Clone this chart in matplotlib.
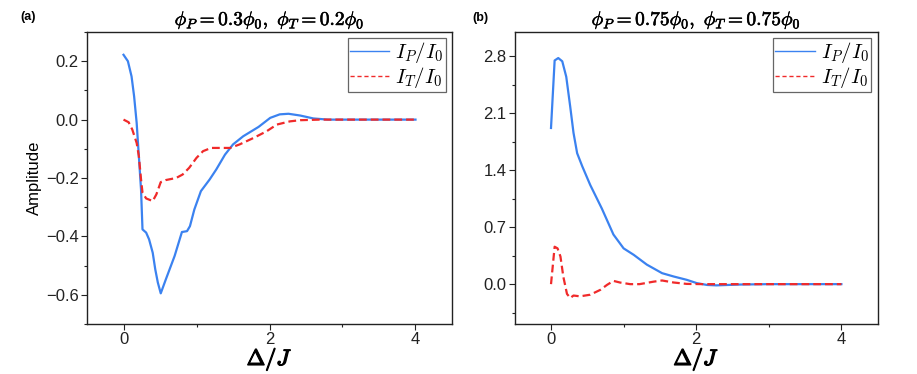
import matplotlib
matplotlib.use("Agg")
import matplotlib.pyplot as plt
import matplotlib.patheffects as pe
from matplotlib.lines import Line2D
from matplotlib.ticker import MultipleLocator, FuncFormatter

plt.rcParams['font.family'] = ['Liberation Sans', 'DejaVu Sans']
plt.rcParams['mathtext.fontset'] = 'cm'

# panel (a)
xa_p = [0.0, 0.06, 0.11, 0.145, 0.18, 0.21, 0.24, 0.26, 0.31, 0.35, 0.40, 0.435, 0.47, 0.51,
        0.58, 0.70, 0.80, 0.87, 0.91, 0.97, 1.06, 1.18, 1.27, 1.39, 1.50, 1.64, 1.85, 2.01,
        2.14, 2.26, 2.42, 2.6, 2.8, 3.0, 3.5, 4.0]
ya_p = [0.222, 0.2, 0.148, 0.08, -0.011, -0.125, -0.24, -0.376, -0.387, -0.41, -0.456, -0.513,
        -0.558, -0.595, -0.547, -0.467, -0.385, -0.382, -0.365, -0.308, -0.245, -0.205, -0.171,
        -0.12, -0.085, -0.057, -0.025, 0.006, 0.018, 0.02, 0.014, 0.004, 0.0, 0.0, 0.0, 0.0]
xa_t = [0.0, 0.07, 0.12, 0.18, 0.21, 0.24, 0.26, 0.31, 0.40, 0.45, 0.51, 0.58, 0.72, 0.81, 0.90,
        1.0, 1.09, 1.20, 1.32, 1.46, 1.59, 1.78, 1.96, 2.10, 2.28, 2.42, 2.7, 3.0, 3.5, 4.0]
ya_t = [0.0, -0.009, -0.034, -0.08, -0.125, -0.205, -0.25, -0.27, -0.279, -0.256, -0.214, -0.207,
        -0.2, -0.188, -0.165, -0.131, -0.108, -0.097, -0.097, -0.097, -0.085, -0.063, -0.04,
        -0.017, -0.006, -0.002, 0.0, 0.0, 0.0, 0.0]

# panel (b)
xb_p = [0.0, 0.05, 0.10, 0.155, 0.21, 0.265, 0.31, 0.36, 0.43, 0.54, 0.70, 0.86, 1.0, 1.14,
        1.32, 1.53, 1.69, 1.87, 2.01, 2.15, 2.28, 2.6, 3.0, 3.5, 4.0]
yb_p = [1.92, 2.75, 2.78, 2.74, 2.55, 2.18, 1.86, 1.61, 1.45, 1.22, 0.93, 0.61, 0.44, 0.36,
        0.24, 0.135, 0.094, 0.053, 0.012, -0.01, -0.015, -0.005, 0.0, 0.0, 0.0]
xb_t = [0.0, 0.05, 0.09, 0.13, 0.17, 0.22, 0.265, 0.31, 0.40, 0.54, 0.68, 0.77, 0.86, 0.95,
        1.09, 1.22, 1.41, 1.53, 1.69, 1.87, 2.1, 2.5, 3.0, 3.5, 4.0]
yb_t = [0.0, 0.46, 0.44, 0.34, 0.09, -0.12, -0.17, -0.14, -0.15, -0.13, -0.07, -0.01, 0.04,
        0.02, 0.0, 0.0, 0.03, 0.045, 0.02, 0.003, 0.0, 0.0, 0.0, 0.0, 0.0]

blue = '#3b82f0'
red = '#f02a2a'

fig = plt.figure(figsize=(9.17, 3.74), dpi=100)
ax1 = fig.add_axes([0.0949, 0.1337, 0.398, 0.7807])
ax2 = fig.add_axes([0.5613, 0.1337, 0.3958, 0.7807])

panels = [
    (ax1, xa_p, ya_p, xa_t, ya_t, r'$\phi_P = 0.3\phi_0,\ \phi_T = 0.2\phi_0$',
     (-0.7, 0.3), 0.2, 0.1),
    (ax2, xb_p, yb_p, xb_t, yb_t, r'$\phi_P = 0.75\phi_0,\ \phi_T = 0.75\phi_0$',
     (-0.49, 3.1), 0.7, 0.35),
]

for ax, xp, yp, xt, yt, title, ylim, major, minor in panels:
    ax.plot(xp, yp, color=blue, lw=1.6)
    ax.plot(xt, yt, color=red, lw=1.6, ls=(0, (3.5, 1.8)))
    ax.set_xlim(-0.5, 4.5)
    ax.set_ylim(*ylim)
    ax.xaxis.set_major_locator(MultipleLocator(2))
    ax.xaxis.set_minor_locator(MultipleLocator(1))
    ax.yaxis.set_major_locator(MultipleLocator(major))
    ax.yaxis.set_minor_locator(MultipleLocator(minor))
    ax.yaxis.set_major_formatter(FuncFormatter(lambda v, p: f'{v:.1f}'.replace('-', '\u2212')))
    ax.tick_params(which='major', direction='out', length=4, width=0.8, labelsize=12, pad=2,
                   colors='#222222')
    ax.tick_params(which='minor', direction='out', length=2, width=0.8, colors='#222222')
    for s in ax.spines.values():
        s.set_linewidth(1.0)
        s.set_color('#222222')
    xl = ax.set_xlabel(r'$\mathbf{\Delta}/J$', fontsize=16, labelpad=-1)
    xl.set_path_effects([pe.withStroke(linewidth=0.9, foreground='black')])
    t = ax.set_title(title, fontsize=14, pad=5)
    t.set_path_effects([pe.withStroke(linewidth=0.4, foreground='black')])
    handles = [Line2D([], [], color=blue, lw=1.0),
               Line2D([], [], color=red, lw=1.0, ls=(0, (3, 2)))]
    leg = ax.legend(handles, [r'$I_P/I_0$', r'$I_T/I_0$'], loc='upper right', fontsize=15,
                    fancybox=False, edgecolor='#666666', framealpha=1, handlelength=1.9,
                    borderpad=0.1, labelspacing=0.0, handletextpad=0.3,
                    borderaxespad=0.3)
    leg.get_frame().set_linewidth(0.9)

ax1.set_ylabel('Amplitude', fontsize=12, labelpad=3)

fig.text(20 / 917, 1 - 17 / 374, '(a)', fontsize=9, fontweight='bold', ha='left', va='center')
fig.text(472 / 917, 1 - 18 / 374, '(b)', fontsize=9, fontweight='bold', ha='left', va='center')

fig.savefig('out.png', dpi=100)
